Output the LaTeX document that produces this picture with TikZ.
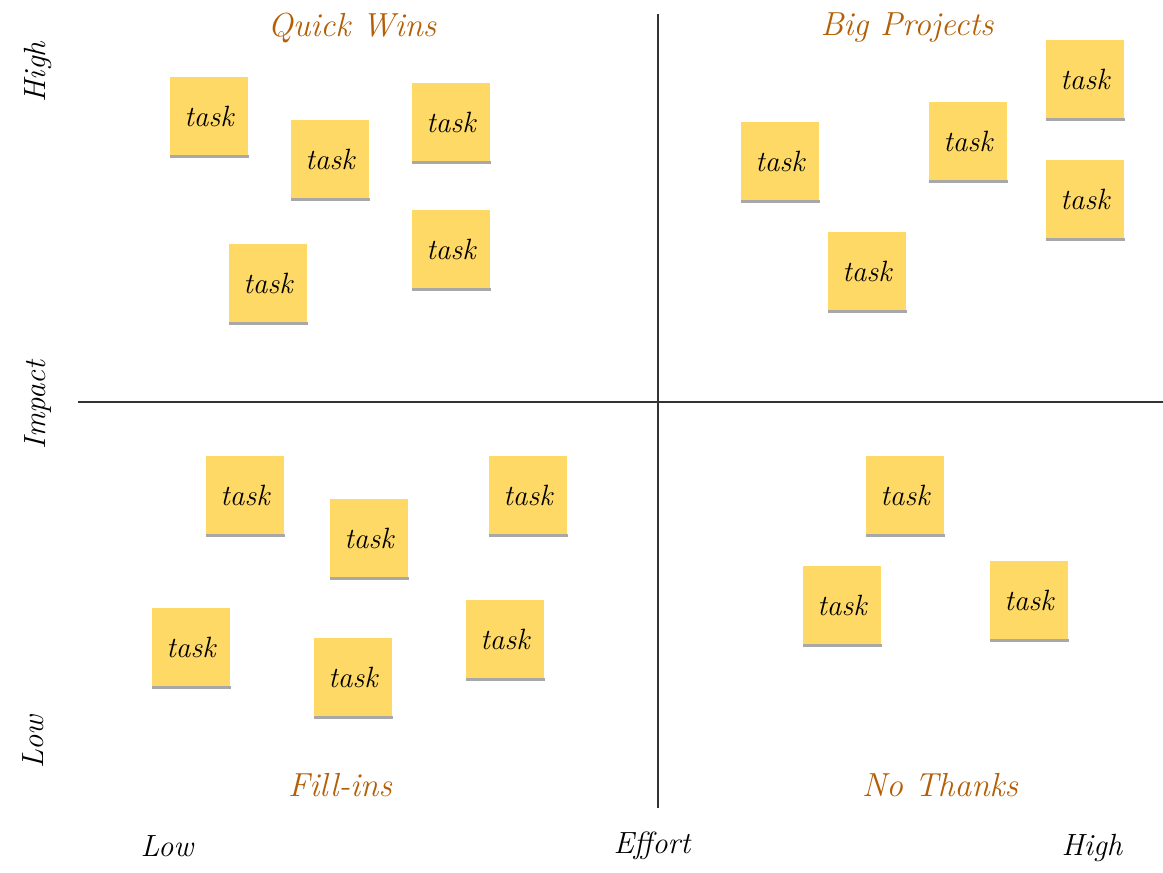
\documentclass[tikz,border=0pt]{standalone}
\usetikzlibrary{positioning}
\definecolor{notefill}{HTML}{FFD966}
\definecolor{noteshadow}{HTML}{A8A8A8}
\definecolor{quadtitle}{HTML}{B45F06}
\begin{document}
\begin{tikzpicture}[x=0.75pt,y=-0.75pt,
  note/.style={fill=notefill,minimum width=58.5pt,minimum height=58.5pt,inner sep=0pt,
    font=\itshape\fontsize{22}{24}\selectfont,
    append after command={\pgfextra{\begin{pgfonlayer}{background}\fill[noteshadow] ([xshift=0.4pt,yshift=-2pt]\tikzlastnode.south west) rectangle ([xshift=0.6pt,yshift=0.5pt]\tikzlastnode.south east);\end{pgfonlayer}}}},
  qtitle/.style={text=quadtitle,font=\itshape\fontsize{25}{28}\selectfont},
  axlabel/.style={text=black,font=\itshape\fontsize{23}{26}\selectfont},
  axisline/.style={draw=black!80,line width=0.8pt}]
\pgfdeclarelayer{background}
\pgfsetlayers{background,main}
\useasboundingbox (0,0) rectangle (1163,872);
% axes
\coordinate (vt) at (658,14);
\coordinate (vb) at (658,808);
\coordinate (hl) at (78,402);
\coordinate (hr) at (1163,402);
\draw[axisline] (vt) -- (vb);
\draw[axisline] (hl) -- (hr);
% quadrant titles
\node[qtitle] (qw) at (352,28) {Quick Wins};
\node[qtitle] (bp) at (907,28) {Big Projects};
\node[qtitle] (fi) at (340,785) {Fill-ins};
\node[qtitle] (nt) at (940,785) {No Thanks};
% axis labels
\node[axlabel] (xlow) at (167,846) {Low};
\node[axlabel] (xeff) at (652,846) {Effort};
\node[axlabel] (xhigh) at (1092,848) {High};
\node[axlabel,rotate=90] (yhigh) at (38,72) {High};
\node[axlabel,rotate=90] (yimp) at (38,405) {Impact};
\node[axlabel,rotate=90] (ylow) at (33,742) {Low};
% Quick Wins
\node[note] (n1) at (209,116) {task};
\node[note] (n2) at (330,159) {task};
\node[note] (n3) at (451,122) {task};
\node[note] (n4) at (451,249) {task};
\node[note] (n5) at (268,283) {task};
% Big Projects
\node[note] (n6) at (780,161) {task};
\node[note] (n7) at (968,141) {task};
\node[note] (n8) at (1085,79) {task};
\node[note] (n9) at (1085,199) {task};
\node[note] (n10) at (867,271) {task};
% Fill-ins
\node[note] (n11) at (245,495) {task};
\node[note] (n12) at (369,538) {task};
\node[note] (n13) at (528,495) {task};
\node[note] (n14) at (191,647) {task};
\node[note] (n15) at (353,677) {task};
\node[note] (n16) at (505,639) {task};
% No Thanks
\node[note] (n17) at (905,495) {task};
\node[note] (n18) at (842,605) {task};
\node[note] (n19) at (1029,600) {task};
\end{tikzpicture}
\end{document}
